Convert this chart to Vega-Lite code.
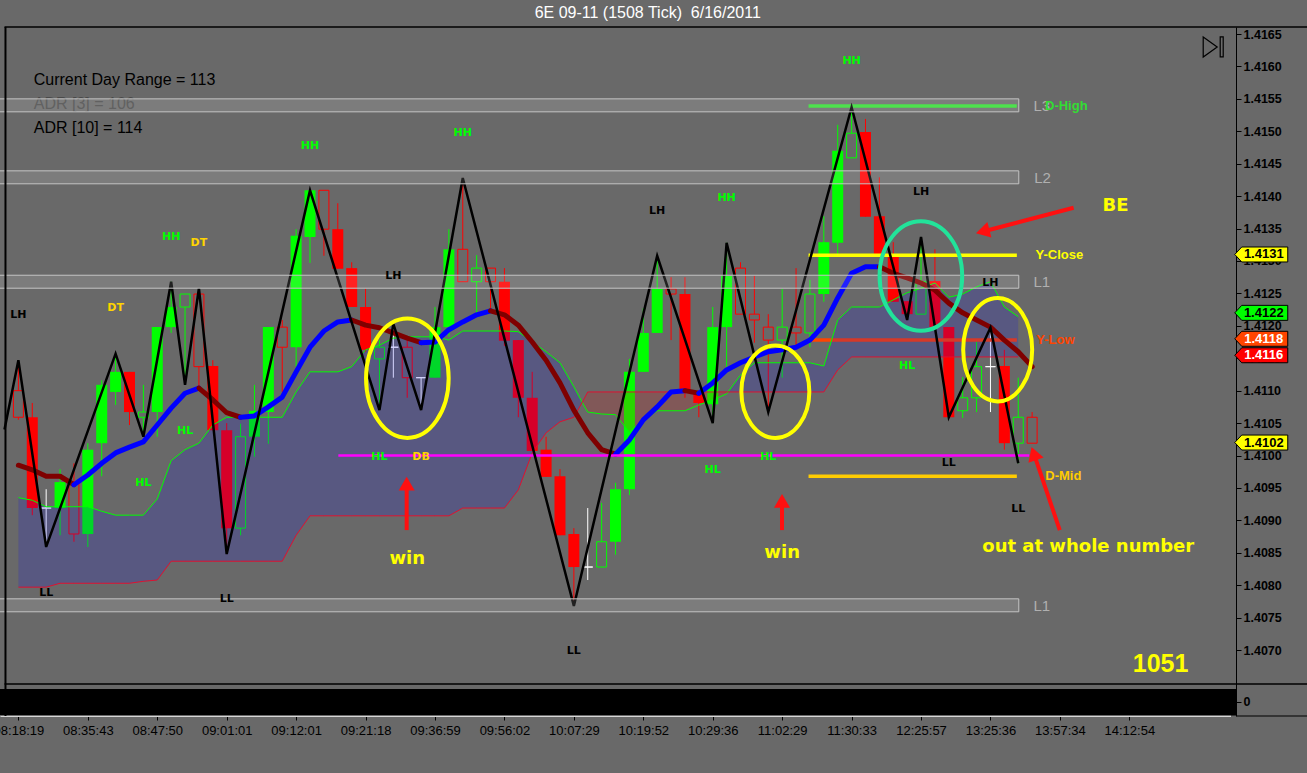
{
"$schema": "https://vega.github.io/schema/vega-lite/v6.json",
"width": 1236, "height": 689,
"autosize": {"type": "none"},
"padding": {"left": 0, "top": 27, "right": 71, "bottom": 57},
"background": "#696969",
"config": {"view": {"stroke": null}, "axis": {"grid": false, "labelOverlap": false}},
"resolve": {"scale": {"color": "independent", "fill": "independent", "stroke": "independent"}, "axis": {"x": "independent", "y": "independent"}},
"datasets": {
"candles": [
{"k":0,"o":1.41100,"h":1.41147,"l":1.41055,"c":1.41059,"hollow":true},
{"k":1,"o":1.41059,"h":1.41081,"l":1.40908,"c":1.40919,"hollow":false},
{"k":2,"o":1.40919,"h":1.40948,"l":1.40859,"c":1.40919,"hollow":true},
{"k":3,"o":1.40919,"h":1.40979,"l":1.40877,"c":1.40959,"hollow":false},
{"k":4,"o":1.40958,"h":1.40988,"l":1.40867,"c":1.40879,"hollow":true},
{"k":5,"o":1.40879,"h":1.41019,"l":1.40859,"c":1.41009,"hollow":false},
{"k":6,"o":1.41019,"h":1.41116,"l":1.40968,"c":1.41109,"hollow":false},
{"k":7,"o":1.41098,"h":1.41157,"l":1.41078,"c":1.41129,"hollow":false},
{"k":8,"o":1.41129,"h":1.41129,"l":1.41047,"c":1.41067,"hollow":false},
{"k":9,"o":1.41059,"h":1.41109,"l":1.41029,"c":1.41067,"hollow":true},
{"k":10,"o":1.41067,"h":1.41198,"l":1.41029,"c":1.41198,"hollow":false},
{"k":11,"o":1.41198,"h":1.41268,"l":1.41189,"c":1.41229,"hollow":false},
{"k":12,"o":1.41229,"h":1.41249,"l":1.41109,"c":1.41249,"hollow":true},
{"k":13,"o":1.41249,"h":1.41258,"l":1.41106,"c":1.41137,"hollow":true},
{"k":14,"o":1.41138,"h":1.41147,"l":1.41039,"c":1.41039,"hollow":false},
{"k":15,"o":1.41039,"h":1.41050,"l":1.40848,"c":1.40888,"hollow":false},
{"k":16,"o":1.40888,"h":1.41049,"l":1.40877,"c":1.41029,"hollow":true},
{"k":17,"o":1.41029,"h":1.41109,"l":1.40998,"c":1.41069,"hollow":false},
{"k":18,"o":1.41067,"h":1.41198,"l":1.41018,"c":1.41198,"hollow":false},
{"k":19,"o":1.41198,"h":1.41209,"l":1.41098,"c":1.41167,"hollow":true},
{"k":20,"o":1.41167,"h":1.41349,"l":1.41137,"c":1.41339,"hollow":false},
{"k":21,"o":1.41337,"h":1.41409,"l":1.41297,"c":1.41409,"hollow":false},
{"k":22,"o":1.41409,"h":1.41409,"l":1.41308,"c":1.41349,"hollow":true},
{"k":23,"o":1.41349,"h":1.41389,"l":1.41288,"c":1.41288,"hollow":false},
{"k":24,"o":1.41289,"h":1.41298,"l":1.41229,"c":1.41229,"hollow":false},
{"k":25,"o":1.41229,"h":1.41257,"l":1.41160,"c":1.41163,"hollow":false},
{"k":26,"o":1.41149,"h":1.41178,"l":1.41070,"c":1.41167,"hollow":true},
{"k":27,"o":1.41167,"h":1.41203,"l":1.41120,"c":1.41167,"hollow":true},
{"k":28,"o":1.41167,"h":1.41178,"l":1.41089,"c":1.41120,"hollow":true},
{"k":29,"o":1.41120,"h":1.41120,"l":1.41070,"c":1.41120,"hollow":true},
{"k":30,"o":1.41120,"h":1.41229,"l":1.41120,"c":1.41198,"hollow":false},
{"k":31,"o":1.41198,"h":1.41349,"l":1.41183,"c":1.41318,"hollow":false},
{"k":32,"o":1.41318,"h":1.41428,"l":1.41268,"c":1.41268,"hollow":true},
{"k":33,"o":1.41268,"h":1.41309,"l":1.41217,"c":1.41289,"hollow":true},
{"k":34,"o":1.41289,"h":1.41289,"l":1.41220,"c":1.41268,"hollow":true},
{"k":35,"o":1.41268,"h":1.41289,"l":1.41169,"c":1.41177,"hollow":false},
{"k":36,"o":1.41178,"h":1.41178,"l":1.41059,"c":1.41089,"hollow":false},
{"k":37,"o":1.41089,"h":1.41129,"l":1.41007,"c":1.41007,"hollow":false},
{"k":38,"o":1.41009,"h":1.41029,"l":1.40967,"c":1.40967,"hollow":false},
{"k":39,"o":1.40968,"h":1.40979,"l":1.40877,"c":1.40877,"hollow":false},
{"k":40,"o":1.40879,"h":1.40888,"l":1.40768,"c":1.40828,"hollow":false},
{"k":41,"o":1.40828,"h":1.40919,"l":1.40808,"c":1.40828,"hollow":true},
{"k":42,"o":1.40828,"h":1.40927,"l":1.40828,"c":1.40867,"hollow":true},
{"k":43,"o":1.40867,"h":1.40958,"l":1.40847,"c":1.40948,"hollow":false},
{"k":44,"o":1.40948,"h":1.41149,"l":1.40939,"c":1.41129,"hollow":false},
{"k":45,"o":1.41129,"h":1.41227,"l":1.41129,"c":1.41189,"hollow":false},
{"k":46,"o":1.41189,"h":1.41308,"l":1.41189,"c":1.41257,"hollow":false},
{"k":47,"o":1.41257,"h":1.41275,"l":1.41178,"c":1.41249,"hollow":true},
{"k":48,"o":1.41249,"h":1.41275,"l":1.41089,"c":1.41098,"hollow":false},
{"k":49,"o":1.41098,"h":1.41098,"l":1.41059,"c":1.41081,"hollow":false},
{"k":50,"o":1.41079,"h":1.41229,"l":1.41050,"c":1.41198,"hollow":false},
{"k":51,"o":1.41198,"h":1.41328,"l":1.41137,"c":1.41277,"hollow":false},
{"k":52,"o":1.41289,"h":1.41298,"l":1.41218,"c":1.41218,"hollow":true},
{"k":53,"o":1.41218,"h":1.41277,"l":1.41174,"c":1.41209,"hollow":true},
{"k":54,"o":1.41198,"h":1.41218,"l":1.41067,"c":1.41178,"hollow":true},
{"k":55,"o":1.41178,"h":1.41257,"l":1.41120,"c":1.41198,"hollow":true},
{"k":56,"o":1.41198,"h":1.41289,"l":1.41163,"c":1.41189,"hollow":true},
{"k":57,"o":1.41189,"h":1.41271,"l":1.41167,"c":1.41249,"hollow":true},
{"k":58,"o":1.41249,"h":1.41369,"l":1.41237,"c":1.41329,"hollow":false},
{"k":59,"o":1.41328,"h":1.41510,"l":1.41309,"c":1.41470,"hollow":false},
{"k":60,"o":1.41459,"h":1.41537,"l":1.41459,"c":1.41497,"hollow":true},
{"k":61,"o":1.41499,"h":1.41519,"l":1.41368,"c":1.41368,"hollow":false},
{"k":62,"o":1.41369,"h":1.41429,"l":1.41309,"c":1.41309,"hollow":false},
{"k":63,"o":1.41309,"h":1.41329,"l":1.41237,"c":1.41237,"hollow":false},
{"k":64,"o":1.41238,"h":1.41238,"l":1.41209,"c":1.41218,"hollow":false},
{"k":65,"o":1.41218,"h":1.41337,"l":1.41218,"c":1.41268,"hollow":true},
{"k":66,"o":1.41269,"h":1.41318,"l":1.41198,"c":1.41198,"hollow":false},
{"k":67,"o":1.41198,"h":1.41198,"l":1.41059,"c":1.41059,"hollow":false},
{"k":68,"o":1.41069,"h":1.41121,"l":1.41058,"c":1.41089,"hollow":true},
{"k":69,"o":1.41089,"h":1.41178,"l":1.41067,"c":1.41137,"hollow":true},
{"k":70,"o":1.41137,"h":1.41197,"l":1.41067,"c":1.41137,"hollow":true},
{"k":71,"o":1.41138,"h":1.41163,"l":1.41009,"c":1.41019,"hollow":false},
{"k":72,"o":1.41019,"h":1.41120,"l":1.40988,"c":1.41059,"hollow":true},
{"k":73,"o":1.41059,"h":1.41067,"l":1.41019,"c":1.41019,"hollow":true}
],
"zz": [
{"k":-1,"p":1.41040},{"k":0,"p":1.41147},{"k":2,"p":1.40859},{"k":7,"p":1.41157},{"k":9,"p":1.41029},
{"k":11,"p":1.41268},{"k":12,"p":1.41109},{"k":13,"p":1.41258},{"k":15,"p":1.40848},{"k":21,"p":1.41409},
{"k":26,"p":1.41070},{"k":27,"p":1.41203},{"k":29,"p":1.41070},{"k":32,"p":1.41428},{"k":40,"p":1.40768},
{"k":46,"p":1.41308},{"k":50,"p":1.41050},{"k":51,"p":1.41328},{"k":54,"p":1.41067},{"k":60,"p":1.41537},
{"k":64,"p":1.41209},{"k":65,"p":1.41337},{"k":67,"p":1.41059},{"k":70,"p":1.41197},{"k":72,"p":1.40988}
],
"ma": [
{"k":0,"v":1.40985,"seg":1,"trend":"dn"},{"k":1,"v":1.40978,"seg":1,"trend":"dn"},{"k":2,"v":1.40968,"seg":1,"trend":"dn"},{"k":3,"v":1.40968,"seg":1,"trend":"dn"},{"k":4,"v":1.40955,"seg":1,"trend":"dn"},
{"k":4,"v":1.40955,"seg":2,"trend":"up"},{"k":5,"v":1.40970,"seg":2,"trend":"up"},{"k":6,"v":1.40988,"seg":2,"trend":"up"},{"k":7,"v":1.41004,"seg":2,"trend":"up"},{"k":8,"v":1.41013,"seg":2,"trend":"up"},{"k":9,"v":1.41021,"seg":2,"trend":"up"},{"k":10,"v":1.41047,"seg":2,"trend":"up"},{"k":11,"v":1.41073,"seg":2,"trend":"up"},{"k":12,"v":1.41096,"seg":2,"trend":"up"},{"k":13,"v":1.41104,"seg":2,"trend":"up"},
{"k":13,"v":1.41104,"seg":3,"trend":"dn"},{"k":14,"v":1.41086,"seg":3,"trend":"dn"},{"k":15,"v":1.41066,"seg":3,"trend":"dn"},{"k":16,"v":1.41059,"seg":3,"trend":"dn"},
{"k":16,"v":1.41059,"seg":4,"trend":"up"},{"k":17,"v":1.41061,"seg":4,"trend":"up"},{"k":18,"v":1.41075,"seg":4,"trend":"up"},{"k":19,"v":1.41090,"seg":4,"trend":"up"},{"k":20,"v":1.41129,"seg":4,"trend":"up"},{"k":21,"v":1.41167,"seg":4,"trend":"up"},{"k":22,"v":1.41192,"seg":4,"trend":"up"},{"k":23,"v":1.41206,"seg":4,"trend":"up"},{"k":24,"v":1.41209,"seg":4,"trend":"up"},
{"k":24,"v":1.41209,"seg":5,"trend":"dn"},{"k":25,"v":1.41201,"seg":5,"trend":"dn"},{"k":26,"v":1.41197,"seg":5,"trend":"dn"},{"k":27,"v":1.41189,"seg":5,"trend":"dn"},{"k":28,"v":1.41181,"seg":5,"trend":"dn"},{"k":29,"v":1.41174,"seg":5,"trend":"dn"},
{"k":29,"v":1.41174,"seg":6,"trend":"up"},{"k":30,"v":1.41175,"seg":6,"trend":"up"},{"k":31,"v":1.41194,"seg":6,"trend":"up"},{"k":32,"v":1.41206,"seg":6,"trend":"up"},{"k":33,"v":1.41217,"seg":6,"trend":"up"},{"k":34,"v":1.41223,"seg":6,"trend":"up"},
{"k":34,"v":1.41223,"seg":7,"trend":"dn"},{"k":35,"v":1.41217,"seg":7,"trend":"dn"},{"k":36,"v":1.41201,"seg":7,"trend":"dn"},{"k":37,"v":1.41175,"seg":7,"trend":"dn"},{"k":38,"v":1.41147,"seg":7,"trend":"dn"},{"k":39,"v":1.41112,"seg":7,"trend":"dn"},{"k":40,"v":1.41070,"seg":7,"trend":"dn"},{"k":41,"v":1.41035,"seg":7,"trend":"dn"},{"k":42,"v":1.41009,"seg":7,"trend":"dn"},{"k":43,"v":1.41002,"seg":7,"trend":"dn"},
{"k":43,"v":1.41002,"seg":8,"trend":"up"},{"k":44,"v":1.41024,"seg":8,"trend":"up"},{"k":45,"v":1.41055,"seg":8,"trend":"up"},{"k":46,"v":1.41075,"seg":8,"trend":"up"},{"k":47,"v":1.41098,"seg":8,"trend":"up"},{"k":48,"v":1.41100,"seg":8,"trend":"up"},
{"k":48,"v":1.41100,"seg":9,"trend":"dn"},{"k":49,"v":1.41096,"seg":9,"trend":"dn"},
{"k":49,"v":1.41096,"seg":10,"trend":"up"},{"k":50,"v":1.41112,"seg":10,"trend":"up"},{"k":51,"v":1.41132,"seg":10,"trend":"up"},{"k":52,"v":1.41143,"seg":10,"trend":"up"},{"k":53,"v":1.41152,"seg":10,"trend":"up"},{"k":54,"v":1.41160,"seg":10,"trend":"up"},{"k":55,"v":1.41163,"seg":10,"trend":"up"},{"k":56,"v":1.41167,"seg":10,"trend":"up"},{"k":57,"v":1.41178,"seg":10,"trend":"up"},{"k":58,"v":1.41201,"seg":10,"trend":"up"},{"k":59,"v":1.41243,"seg":10,"trend":"up"},{"k":60,"v":1.41281,"seg":10,"trend":"up"},{"k":61,"v":1.41291,"seg":10,"trend":"up"},{"k":62,"v":1.41291,"seg":10,"trend":"up"},
{"k":62,"v":1.41291,"seg":11,"trend":"dn"},{"k":63,"v":1.41281,"seg":11,"trend":"dn"},{"k":64,"v":1.41274,"seg":11,"trend":"dn"},{"k":65,"v":1.41266,"seg":11,"trend":"dn"},{"k":66,"v":1.41255,"seg":11,"trend":"dn"},{"k":67,"v":1.41235,"seg":11,"trend":"dn"},{"k":68,"v":1.41220,"seg":11,"trend":"dn"},{"k":69,"v":1.41209,"seg":11,"trend":"dn"},{"k":70,"v":1.41198,"seg":11,"trend":"dn"},{"k":71,"v":1.41178,"seg":11,"trend":"dn"},{"k":72,"v":1.41160,"seg":11,"trend":"dn"},{"k":73,"v":1.41137,"seg":11,"trend":"dn"}
],
"ichi": [
{"k":0,"a":1.40935,"b":1.40797,"seg":"A","kind":"bull"},{"k":1,"a":1.40931,"b":1.40797,"seg":"A","kind":"bull"},{"k":2,"a":1.40921,"b":1.40797,"seg":"A","kind":"bull"},{"k":3,"a":1.40921,"b":1.40803,"seg":"A","kind":"bull"},{"k":4,"a":1.40921,"b":1.40803,"seg":"A","kind":"bull"},{"k":5,"a":1.40921,"b":1.40803,"seg":"A","kind":"bull"},{"k":6,"a":1.40914,"b":1.40803,"seg":"A","kind":"bull"},{"k":7,"a":1.40908,"b":1.40803,"seg":"A","kind":"bull"},{"k":8,"a":1.40908,"b":1.40803,"seg":"A","kind":"bull"},{"k":9,"a":1.40908,"b":1.40806,"seg":"A","kind":"bull"},
{"k":10,"a":1.40933,"b":1.40808,"seg":"A","kind":"bull"},{"k":11,"a":1.40992,"b":1.40837,"seg":"A","kind":"bull"},{"k":12,"a":1.41009,"b":1.40837,"seg":"A","kind":"bull"},{"k":13,"a":1.41019,"b":1.40837,"seg":"A","kind":"bull"},{"k":14,"a":1.41047,"b":1.40837,"seg":"A","kind":"bull"},{"k":15,"a":1.41059,"b":1.40837,"seg":"A","kind":"bull"},{"k":16,"a":1.41059,"b":1.40837,"seg":"A","kind":"bull"},{"k":17,"a":1.41059,"b":1.40837,"seg":"A","kind":"bull"},{"k":18,"a":1.41059,"b":1.40837,"seg":"A","kind":"bull"},{"k":19,"a":1.41059,"b":1.40837,"seg":"A","kind":"bull"},
{"k":20,"a":1.41098,"b":1.40877,"seg":"A","kind":"bull"},{"k":21,"a":1.41129,"b":1.40907,"seg":"A","kind":"bull"},{"k":22,"a":1.41129,"b":1.40907,"seg":"A","kind":"bull"},{"k":23,"a":1.41129,"b":1.40907,"seg":"A","kind":"bull"},{"k":24,"a":1.41137,"b":1.40907,"seg":"A","kind":"bull"},{"k":25,"a":1.41163,"b":1.40907,"seg":"A","kind":"bull"},{"k":26,"a":1.41170,"b":1.40907,"seg":"A","kind":"bull"},{"k":27,"a":1.41181,"b":1.40907,"seg":"A","kind":"bull"},{"k":28,"a":1.41183,"b":1.40907,"seg":"A","kind":"bull"},{"k":29,"a":1.41183,"b":1.40907,"seg":"A","kind":"bull"},
{"k":30,"a":1.41183,"b":1.40907,"seg":"A","kind":"bull"},{"k":31,"a":1.41178,"b":1.40907,"seg":"A","kind":"bull"},{"k":32,"a":1.41192,"b":1.40919,"seg":"A","kind":"bull"},{"k":33,"a":1.41192,"b":1.40919,"seg":"A","kind":"bull"},{"k":34,"a":1.41192,"b":1.40919,"seg":"A","kind":"bull"},{"k":35,"a":1.41192,"b":1.40919,"seg":"A","kind":"bull"},{"k":36,"a":1.41191,"b":1.40947,"seg":"A","kind":"bull"},{"k":37,"a":1.41175,"b":1.41004,"seg":"A","kind":"bull"},{"k":38,"a":1.41160,"b":1.41035,"seg":"A","kind":"bull"},{"k":39,"a":1.41143,"b":1.41052,"seg":"A","kind":"bull"},
{"k":40,"a":1.41106,"b":1.41059,"seg":"A","kind":"bull"},{"k":40.6,"a":1.41082,"b":1.41082,"seg":"A","kind":"bull"},
{"k":40.6,"a":1.41082,"b":1.41082,"seg":"B","kind":"bear"},{"k":41,"a":1.41067,"b":1.41098,"seg":"B","kind":"bear"},{"k":42,"a":1.41064,"b":1.41098,"seg":"B","kind":"bear"},{"k":43,"a":1.41063,"b":1.41098,"seg":"B","kind":"bear"},{"k":44,"a":1.41036,"b":1.41098,"seg":"B","kind":"bear"},{"k":45,"a":1.41055,"b":1.41098,"seg":"B","kind":"bear"},{"k":46,"a":1.41069,"b":1.41098,"seg":"B","kind":"bear"},{"k":47,"a":1.41069,"b":1.41098,"seg":"B","kind":"bear"},{"k":48,"a":1.41069,"b":1.41098,"seg":"B","kind":"bear"},{"k":49,"a":1.41078,"b":1.41098,"seg":"B","kind":"bear"},{"k":50,"a":1.41086,"b":1.41098,"seg":"B","kind":"bear"},{"k":51,"a":1.41095,"b":1.41098,"seg":"B","kind":"bear"},{"k":51.1,"a":1.41098,"b":1.41098,"seg":"B","kind":"bear"},
{"k":51.1,"a":1.41098,"b":1.41098,"seg":"C","kind":"bull"},{"k":52,"a":1.41124,"b":1.41098,"seg":"C","kind":"bull"},{"k":53,"a":1.41143,"b":1.41098,"seg":"C","kind":"bull"},{"k":54,"a":1.41143,"b":1.41098,"seg":"C","kind":"bull"},{"k":55,"a":1.41143,"b":1.41098,"seg":"C","kind":"bull"},{"k":56,"a":1.41143,"b":1.41098,"seg":"C","kind":"bull"},{"k":57,"a":1.41143,"b":1.41098,"seg":"C","kind":"bull"},{"k":58,"a":1.41138,"b":1.41098,"seg":"C","kind":"bull"},{"k":59,"a":1.41209,"b":1.41132,"seg":"C","kind":"bull"},
{"k":60,"a":1.41229,"b":1.41152,"seg":"C","kind":"bull"},{"k":61,"a":1.41229,"b":1.41152,"seg":"C","kind":"bull"},{"k":62,"a":1.41229,"b":1.41152,"seg":"C","kind":"bull"},{"k":63,"a":1.41240,"b":1.41152,"seg":"C","kind":"bull"},{"k":64,"a":1.41251,"b":1.41152,"seg":"C","kind":"bull"},{"k":65,"a":1.41258,"b":1.41152,"seg":"C","kind":"bull"},{"k":66,"a":1.41266,"b":1.41152,"seg":"C","kind":"bull"},{"k":67,"a":1.41244,"b":1.41152,"seg":"C","kind":"bull"},{"k":68,"a":1.41249,"b":1.41152,"seg":"C","kind":"bull"},{"k":69,"a":1.41260,"b":1.41152,"seg":"C","kind":"bull"},{"k":70,"a":1.41268,"b":1.41152,"seg":"C","kind":"bull"},{"k":71,"a":1.41229,"b":1.41152,"seg":"C","kind":"bull"},{"k":72,"a":1.41214,"b":1.41152,"seg":"C","kind":"bull"}
],
"bands": [{"name":"L3","lo":1.41530,"hi":1.41550},{"name":"L2","lo":1.41419,"hi":1.41439},{"name":"L1","lo":1.41258,"hi":1.41278},{"name":"L1","lo":1.40759,"hi":1.40779}],
"levels": [{"name":"D-High","p":1.41539},{"name":"Y-Close","p":1.41309},{"name":"Y-Low","p":1.41178},{"name":"D-Mid","p":1.40968}],
"swing": [
{"k":0,"p":1.41217,"t":"LH"},{"k":7,"p":1.41227,"t":"DT"},{"k":11,"p":1.41337,"t":"HH"},{"k":13,"p":1.41328,"t":"DT"},{"k":21,"p":1.41477,"t":"HH"},{"k":27,"p":1.41277,"t":"LH"},
{"k":9,"p":1.40958,"t":"HL"},{"k":12,"p":1.41038,"t":"HL"},{"k":2,"p":1.40788,"t":"LL"},{"k":15,"p":1.40779,"t":"LL"},{"k":26,"p":1.40998,"t":"HL"},{"k":29,"p":1.40998,"t":"DB"},
{"k":32,"p":1.41497,"t":"HH"},{"k":46,"p":1.41377,"t":"LH"},{"k":51,"p":1.41397,"t":"HH"},{"k":40,"p":1.40699,"t":"LL"},{"k":50,"p":1.40978,"t":"HL"},{"k":54,"p":1.40998,"t":"HL"},
{"k":60,"p":1.41608,"t":"HH"},{"k":65,"p":1.41406,"t":"LH"},{"k":70,"p":1.41266,"t":"LH"},{"k":64,"p":1.41138,"t":"HL"},{"k":67,"p":1.40988,"t":"LL"},{"k":72,"p":1.40918,"t":"LL"}
],
"notes": [{"k":28,"p":1.40840,"t":"win"},{"k":55,"p":1.40850,"t":"win"},{"k":79,"p":1.41385,"t":"BE"},{"k":77.04,"p":1.40859,"t":"out at whole number"}],
"info": [{"p":1.41579,"t":"Current Day Range = 113"},{"p":1.41542,"t":"ADR [3] = 106"},{"p":1.41505,"t":"ADR [10] = 114"}],
"lvltext": [{"k":73.7,"p":1.41539,"t":"L3"},{"k":73.75,"p":1.41428,"t":"L2"},{"k":73.7,"p":1.41268,"t":"L1"},{"k":73.7,"p":1.40768,"t":"L1"}],
"lvlname": [{"k":75.46,"p":1.41539,"t":"D-High"},{"k":74.96,"p":1.41309,"t":"Y-Close"},{"k":74.68,"p":1.41178,"t":"Y-Low"},{"k":75.25,"p":1.40968,"t":"D-Mid"}],
"tags": [{"p":1.4131,"t":"1.4131","name":"Y-Close"},{"p":1.4122,"t":"1.4122","name":"SpanA"},{"p":1.4118,"t":"1.4118","name":"Y-Low"},{"p":1.4116,"t":"1.4116","name":"SpanB"},{"p":1.4102,"t":"1.4102","name":"Last"}]
},
"layer": [
{"data": {"name": "candles"},
 "mark": {"type": "rule", "strokeWidth": 1, "clip": true},
 "encoding": {
  "x": {"field": "k", "type": "quantitative",
   "scale": {"domain": [-0.9643, 87.3214], "nice": false, "zero": false},
   "axis": {"orient": "bottom", "values": [0,5,10,15,20,25,30,35,40,45,50,55,60,65,70,75,80],
    "labelExpr": "['08:18:19','08:35:43','08:47:50','09:01:01','09:12:01','09:21:18','09:36:59','09:56:02','10:07:29','10:19:52','10:29:36','11:02:29','11:30:33','12:25:57','13:25:36','13:57:34','14:12:54'][round(datum.value/5)]",
    "title": null, "grid": false, "domainColor": "#d8d8d8", "tickColor": "#000000", "tickSize": 4,
    "labelColor": "#000000", "labelFont": "Liberation Sans", "labelFontSize": 13, "labelPadding": 4,
    "labelFlush": false, "labelOverlap": false, "labelBound": false, "zindex": 0}},
  "y": {"field": "l", "type": "quantitative",
   "scale": {"domain": [1.405983, 1.416608], "nice": false, "zero": false},
   "axis": {"orient": "right", "values": [1.4062,1.407,1.4075,1.408,1.4085,1.409,1.4095,1.41,1.4105,1.411,1.4115,1.412,1.4125,1.413,1.4135,1.414,1.4145,1.415,1.4155,1.416,1.4165],
    "labelExpr": "datum.value < 1.4065 ? '0' : format(datum.value, '.4f')",
    "title": null, "grid": false, "domainColor": "#000000", "tickColor": "#000000", "tickSize": 5,
    "labelColor": "#000000", "labelFont": "Liberation Sans", "labelFontSize": 12.5, "labelFontWeight": "bold",
    "labelPadding": 2, "labelOverlap": false, "labelFlush": false, "labelBound": false, "zindex": 0}},
  "y2": {"field": "h"},
  "color": {"condition": [{"test": "datum.c > datum.o", "value": "#00ff00"}, {"test": "datum.c < datum.o", "value": "#ff0000"}], "value": "#ffffff"}
 }},
{"data": {"name": "candles"},
 "transform": [{"filter": "!datum.hollow"}],
 "mark": {"type": "bar", "width": 11, "clip": true},
 "encoding": {
  "x": {"field": "k", "type": "quantitative", "axis": null},
  "y": {"field": "o", "type": "quantitative", "stack": null, "axis": null},
  "y2": {"field": "c"},
  "color": {"condition": [{"test": "datum.c > datum.o", "value": "#00ff00"}, {"test": "datum.c < datum.o", "value": "#ff0000"}], "value": "#ffffff"}
 }},
{"data": {"name": "candles"},
 "transform": [{"filter": "datum.hollow"}],
 "mark": {"type": "bar", "width": 10, "fill": "#696969", "strokeWidth": 1, "clip": true},
 "encoding": {
  "x": {"field": "k", "type": "quantitative", "axis": null},
  "y": {"field": "o", "type": "quantitative", "stack": null, "axis": null},
  "y2": {"field": "c"},
  "stroke": {"condition": [{"test": "datum.c > datum.o", "value": "#00ff00"}, {"test": "datum.c < datum.o", "value": "#ff0000"}], "value": "#ffffff"}
 }},
{"data": {"name": "levels"},
 "mark": {"type": "rule", "strokeWidth": 3.5},
 "encoding": {
  "x": {"datum": 56.9, "type": "quantitative", "axis": null}, "x2": {"datum": 71.9},
  "y": {"field": "p", "type": "quantitative", "axis": null},
  "color": {"field": "name", "type": "nominal", "scale": {"domain": ["D-High","Y-Close","Y-Low","D-Mid"], "range": ["#33dd33","#ffff00","#ff4500","#ffcc00"]}, "legend": null}
 }},
{"data": {"name": "ichi"},
 "mark": {"type": "area", "opacity": 0.16, "clip": true},
 "encoding": {
  "x": {"field": "k", "type": "quantitative", "axis": null},
  "y": {"field": "a", "type": "quantitative", "stack": null, "axis": null},
  "y2": {"field": "b"},
  "color": {"field": "kind", "type": "nominal", "scale": {"domain": ["bull","bear"], "range": ["#0000ff","#ff0000"]}, "legend": null},
  "detail": {"field": "seg"}
 }},
{"data": {"name": "ichi"},
 "mark": {"type": "line", "color": "#00ff00", "strokeWidth": 1, "clip": true},
 "encoding": {"x": {"field": "k", "type": "quantitative", "axis": null}, "y": {"field": "a", "type": "quantitative", "axis": null}}},
{"data": {"name": "ichi"},
 "mark": {"type": "line", "color": "#e01030", "strokeWidth": 1, "clip": true},
 "encoding": {"x": {"field": "k", "type": "quantitative", "axis": null}, "y": {"field": "b", "type": "quantitative", "axis": null}}},
{"data": {"name": "ma"},
 "mark": {"type": "line", "strokeWidth": 5, "strokeJoin": "round", "strokeCap": "round", "clip": true},
 "encoding": {
  "x": {"field": "k", "type": "quantitative", "axis": null},
  "y": {"field": "v", "type": "quantitative", "axis": null},
  "color": {"field": "trend", "type": "nominal", "scale": {"domain": ["up","dn"], "range": ["#0000ff","#7f0000"]}, "legend": null},
  "detail": {"field": "seg"}
 }},
{"data": {"values": [{}]},
 "mark": {"type": "rule", "color": "#ff00ff", "strokeWidth": 2.6},
 "encoding": {"x": {"datum": 23.04, "type": "quantitative", "axis": null}, "x2": {"datum": 72.8}, "y": {"datum": 1.41, "type": "quantitative", "axis": null}}},
{"data": {"name": "zz"},
 "mark": {"type": "line", "color": "#000000", "strokeWidth": 2.5, "clip": true},
 "encoding": {"x": {"field": "k", "type": "quantitative", "axis": null}, "y": {"field": "p", "type": "quantitative", "axis": null}}},
{"data": {"name": "info"},
 "mark": {"type": "text", "align": "left", "baseline": "middle", "font": "Liberation Sans", "fontSize": 16},
 "encoding": {
  "x": {"datum": 1.107, "type": "quantitative", "axis": null},
  "y": {"field": "p", "type": "quantitative", "axis": null},
  "text": {"field": "t"},
  "color": {"condition": {"test": "datum.t == 'ADR [3] = 106'", "value": "#4a4a4a"}, "value": "#000000"}
 }},
{"data": {"name": "bands"},
 "mark": {"type": "rect", "fill": "#ffffff", "fillOpacity": 0.13, "stroke": "#c4c4c4", "strokeWidth": 1, "clip": true},
 "encoding": {"x": {"datum": -2, "type": "quantitative", "axis": null}, "x2": {"datum": 72.04}, "y": {"field": "lo", "type": "quantitative", "axis": null}, "y2": {"field": "hi"}}},
{"data": {"values": [{}]},
 "mark": {"type": "rect", "color": "#000000", "clip": true},
 "encoding": {"x": {"datum": -2, "type": "quantitative", "axis": null}, "x2": {"datum": 88}, "y": {"datum": 1.4060, "type": "quantitative", "axis": null}, "y2": {"datum": 1.4064}}},
{"data": {"values": [{}]},
 "mark": {"type": "rule", "color": "#000000", "strokeWidth": 1.5, "clip": false},
 "encoding": {"x": {"datum": -1, "type": "quantitative", "axis": null}, "x2": {"datum": 93}, "y": {"datum": 1.406477, "type": "quantitative", "axis": null}}},
{"data": {"values": [{}]},
 "mark": {"type": "rule", "color": "#000000", "strokeWidth": 1.5, "clip": false},
 "encoding": {"x": {"datum": -1, "type": "quantitative", "axis": null}, "x2": {"datum": 93}, "y": {"datum": 1.416608, "type": "quantitative", "axis": null}}},
{"data": {"values": [{}]},
 "mark": {"type": "rule", "color": "#000000", "strokeWidth": 1, "clip": false},
 "encoding": {"x": {"datum": 87.3214, "type": "quantitative", "axis": null}, "x2": {"datum": 93}, "y": {"datum": 1.405983, "type": "quantitative", "axis": null}}},
{"data": {"values": [{}]},
 "mark": {"type": "rule", "color": "#000000", "strokeWidth": 2, "clip": false},
 "encoding": {"x": {"datum": -0.93, "type": "quantitative", "axis": null}, "y": {"datum": 1.405983, "type": "quantitative", "axis": null}, "y2": {"datum": 1.416608}}},
{"data": {"values": [{}]},
 "mark": {"type": "text", "text": "6E 09-11 (1508 Tick)\u00a0 6/16/2011", "color": "#ffffff", "font": "Liberation Sans", "fontSize": 16, "align": "center", "baseline": "middle", "clip": false},
 "encoding": {"x": {"datum": 45.32, "type": "quantitative", "axis": null}, "y": {"datum": 1.416824, "type": "quantitative", "axis": null}}},
{"data": {"name": "swing"},
 "mark": {"type": "text", "font": "DejaVu Sans", "fontSize": 11, "fontWeight": "bold", "align": "center", "baseline": "middle"},
 "encoding": {
  "x": {"field": "k", "type": "quantitative", "axis": null},
  "y": {"field": "p", "type": "quantitative", "axis": null},
  "text": {"field": "t"},
  "color": {"field": "t", "type": "nominal", "scale": {"domain": ["LH","LL","HH","HL","DT","DB"], "range": ["#000000","#000000","#00ff00","#00ff00","#ffd400","#ffd400"]}, "legend": null}
 }},
{"data": {"name": "notes"},
 "mark": {"type": "text", "font": "DejaVu Sans", "fontSize": 18, "fontWeight": "bold", "align": "center", "baseline": "middle", "color": "#ffff00"},
 "encoding": {"x": {"field": "k", "type": "quantitative", "axis": null}, "y": {"field": "p", "type": "quantitative", "axis": null}, "text": {"field": "t"}}},
{"data": {"values": [{"t": "1051"}]},
 "mark": {"type": "text", "font": "Liberation Sans", "fontSize": 25, "fontWeight": "bold", "align": "center", "baseline": "middle", "color": "#ffff00"},
 "encoding": {"x": {"datum": 82.25, "type": "quantitative", "axis": null}, "y": {"datum": 1.40679, "type": "quantitative", "axis": null}, "text": {"field": "t"}}},
{"data": {"name": "lvltext"},
 "mark": {"type": "text", "font": "Liberation Sans", "fontSize": 15, "align": "center", "baseline": "middle", "color": "#b0b0b0"},
 "encoding": {"x": {"field": "k", "type": "quantitative", "axis": null}, "y": {"field": "p", "type": "quantitative", "axis": null}, "text": {"field": "t"}}},
{"data": {"name": "lvlname"},
 "mark": {"type": "text", "font": "Liberation Sans", "fontSize": 13, "fontWeight": "bold", "align": "center", "baseline": "middle"},
 "encoding": {
  "x": {"field": "k", "type": "quantitative", "axis": null},
  "y": {"field": "p", "type": "quantitative", "axis": null},
  "text": {"field": "t"},
  "color": {"field": "t", "type": "nominal", "scale": {"domain": ["D-High","Y-Close","Y-Low","D-Mid"], "range": ["#33dd33","#ffff00","#ff4500","#ffcc00"]}, "legend": null}
 }},
{"data": {"values": [{}]},
 "mark": {"type": "point", "shape": "M 0.692 0 C 0.692 0.552 0.382 1 0 1 C -0.382 1 -0.692 0.552 -0.692 0 C -0.692 -0.552 -0.382 -1 0 -1 C 0.382 -1 0.692 -0.552 0.692 0 Z", "size": 14256, "filled": false, "color": "#ffff00", "stroke": "#ffff00", "strokeWidth": 4, "opacity": 1},
 "encoding": {"x": {"datum": 28.01, "type": "quantitative", "axis": null}, "y": {"datum": 1.411191, "type": "quantitative", "axis": null}}},
{"data": {"values": [{}]},
 "mark": {"type": "point", "shape": "M 0.734 0 C 0.734 0.552 0.405 1 0 1 C -0.405 1 -0.734 0.552 -0.734 0 C -0.734 -0.552 -0.405 -1 0 -1 C 0.405 -1 0.734 -0.552 0.734 0 Z", "size": 8575, "filled": false, "color": "#ffff00", "stroke": "#ffff00", "strokeWidth": 4, "opacity": 1},
 "encoding": {"x": {"datum": 54.51, "type": "quantitative", "axis": null}, "y": {"datum": 1.410984, "type": "quantitative", "axis": null}}},
{"data": {"values": [{}]},
 "mark": {"type": "point", "shape": "M 0.755 0 C 0.755 0.552 0.417 1 0 1 C -0.417 1 -0.755 0.552 -0.755 0 C -0.755 -0.552 -0.417 -1 0 -1 C 0.417 -1 0.755 -0.552 0.755 0 Z", "size": 11968, "filled": false, "color": "#22e39a", "stroke": "#22e39a", "strokeWidth": 4, "opacity": 1},
 "encoding": {"x": {"datum": 64.99, "type": "quantitative", "axis": null}, "y": {"datum": 1.412768, "type": "quantitative", "axis": null}}},
{"data": {"values": [{}]},
 "mark": {"type": "point", "shape": "M 0.667 0 C 0.667 0.552 0.368 1 0 1 C -0.368 1 -0.667 0.552 -0.667 0 C -0.667 -0.552 -0.368 -1 0 -1 C 0.368 -1 0.667 -0.552 0.667 0 Z", "size": 10692, "filled": false, "color": "#ffff00", "stroke": "#ffff00", "strokeWidth": 4, "opacity": 1},
 "encoding": {"x": {"datum": 70.52, "type": "quantitative", "axis": null}, "y": {"datum": 1.411632, "type": "quantitative", "axis": null}}},
{"data": {"values": [{}]},
 "mark": {"type": "rule", "color": "#ff1010", "strokeWidth": 4},
 "encoding": {"x": {"datum": 27.96, "type": "quantitative", "axis": null}, "y": {"datum": 1.40885, "type": "quantitative", "axis": null}, "y2": {"datum": 1.40953}}},
{"data": {"values": [{}]},
 "mark": {"type": "point", "shape": "triangle-up", "size": 256, "filled": true, "color": "#ff1010", "opacity": 1},
 "encoding": {"x": {"datum": 27.96, "type": "quantitative", "axis": null}, "y": {"datum": 1.409567, "type": "quantitative", "axis": null}}},
{"data": {"values": [{}]},
 "mark": {"type": "rule", "color": "#ff1010", "strokeWidth": 4},
 "encoding": {"x": {"datum": 54.99, "type": "quantitative", "axis": null}, "y": {"datum": 1.40885, "type": "quantitative", "axis": null}, "y2": {"datum": 1.40926}}},
{"data": {"values": [{}]},
 "mark": {"type": "point", "shape": "triangle-up", "size": 256, "filled": true, "color": "#ff1010", "opacity": 1},
 "encoding": {"x": {"datum": 54.99, "type": "quantitative", "axis": null}, "y": {"datum": 1.40930, "type": "quantitative", "axis": null}}},
{"data": {"values": [{}]},
 "mark": {"type": "rule", "color": "#ff1010", "strokeWidth": 4},
 "encoding": {"x": {"datum": 75.99, "type": "quantitative", "axis": null}, "x2": {"datum": 69.61}, "y": {"datum": 1.413821, "type": "quantitative", "axis": null}, "y2": {"datum": 1.413462}}},
{"data": {"values": [{}]},
 "mark": {"type": "point", "shape": "triangle-left", "size": 256, "filled": true, "color": "#ff1010", "opacity": 1, "angle": 345.5},
 "encoding": {"x": {"datum": 69.44, "type": "quantitative", "axis": null}, "y": {"datum": 1.413453, "type": "quantitative", "axis": null}}},
{"data": {"values": [{}]},
 "mark": {"type": "rule", "color": "#ff1010", "strokeWidth": 4},
 "encoding": {"x": {"datum": 74.99, "type": "quantitative", "axis": null}, "x2": {"datum": 73.18}, "y": {"datum": 1.408851, "type": "quantitative", "axis": null}, "y2": {"datum": 1.409993}}},
{"data": {"values": [{}]},
 "mark": {"type": "point", "shape": "triangle-up", "size": 256, "filled": true, "color": "#ff1010", "opacity": 1, "angle": 341.3},
 "encoding": {"x": {"datum": 73.12, "type": "quantitative", "axis": null}, "y": {"datum": 1.41003, "type": "quantitative", "axis": null}}},
{"data": {"values": [{}]},
 "mark": {"type": "point", "shape": "M -1 -1 L 0.4 0 L -1 1 Z M 0.7 -1 L 1 -1 L 1 1 L 0.7 1 Z", "size": 400, "filled": false, "color": "#000000", "stroke": "#000000", "strokeWidth": 1.2, "opacity": 1},
 "encoding": {"x": {"datum": 86.04, "type": "quantitative", "axis": null}, "y": {"datum": 1.4163, "type": "quantitative", "axis": null}}},
{"data": {"name": "tags"},
 "transform": [{"filter": "datum.name != 'SpanB'"}],
 "mark": {"type": "point", "shape": "M -1 0 L -0.736 -0.283 L 1 -0.283 L 1 0.283 L -0.736 0.283 Z", "size": 2809, "filled": true, "stroke": "#000000", "strokeWidth": 1, "opacity": 1, "clip": false},
 "encoding": {
  "x": {"datum": 89.5, "type": "quantitative", "axis": null},
  "y": {"field": "p", "type": "quantitative", "axis": null},
  "fill": {"field": "name", "type": "nominal", "scale": {"domain": ["Y-Close","SpanA","Y-Low","Last"], "range": ["#ffff00","#00ff00","#ff4500","#ffff00"]}, "legend": null}
 }},
{"data": {"name": "tags"},
 "transform": [{"filter": "datum.name != 'SpanB'"}],
 "mark": {"type": "text", "font": "Liberation Sans", "fontSize": 13, "fontWeight": "bold", "align": "center", "baseline": "middle", "clip": false},
 "encoding": {
  "x": {"datum": 89.68, "type": "quantitative", "axis": null},
  "y": {"field": "p", "type": "quantitative", "axis": null},
  "text": {"field": "t"},
  "color": {"field": "name", "type": "nominal", "scale": {"domain": ["Y-Close","SpanA","Y-Low","Last"], "range": ["#000000","#000000","#ffffff","#000000"]}, "legend": null}
 }},
{"data": {"name": "tags"},
 "transform": [{"filter": "datum.name == 'SpanB'"}],
 "mark": {"type": "point", "shape": "M -1 0 L -0.736 -0.283 L 1 -0.283 L 1 0.283 L -0.736 0.283 Z", "size": 2809, "filled": true, "fill": "#ff0000", "stroke": "#000000", "strokeWidth": 1, "opacity": 1, "clip": false, "yOffset": 3.5},
 "encoding": {
  "x": {"datum": 89.5, "type": "quantitative", "axis": null},
  "y": {"field": "p", "type": "quantitative", "axis": null}
 }},
{"data": {"name": "tags"},
 "transform": [{"filter": "datum.name == 'SpanB'"}],
 "mark": {"type": "text", "font": "Liberation Sans", "fontSize": 13, "fontWeight": "bold", "align": "center", "baseline": "middle", "color": "#ffffff", "clip": false, "yOffset": 3.5},
 "encoding": {
  "x": {"datum": 89.68, "type": "quantitative", "axis": null},
  "y": {"field": "p", "type": "quantitative", "axis": null},
  "text": {"field": "t"}
 }}
]
}
